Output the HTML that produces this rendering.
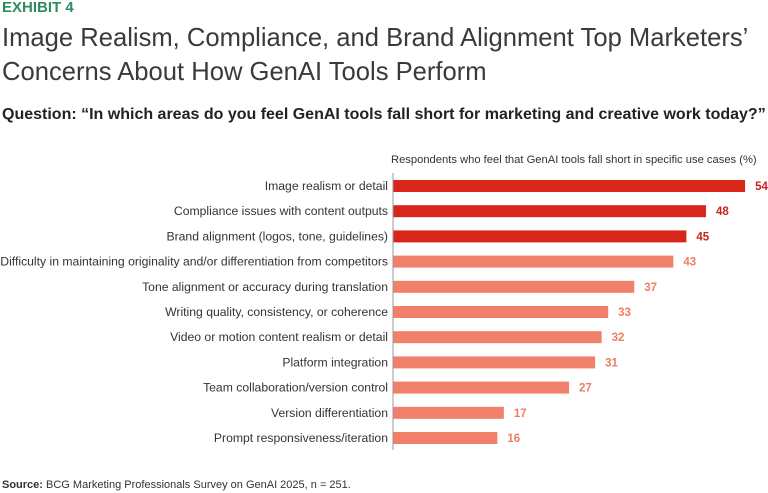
<!DOCTYPE html>
<html><head><meta charset="utf-8"><style>
body{margin:0;width:768px;height:493px;background:#fff;font-family:"Liberation Sans",sans-serif;overflow:hidden;position:relative;color:#222}
.t{position:absolute;white-space:nowrap}
</style></head><body>
<div class="t" style="left:2px;top:-1px;font-size:15px;font-weight:bold;color:#2e8b62">EXHIBIT 4</div>
<div class="t" style="left:2px;top:21px;font-size:25.6px;line-height:34px;color:#3a3a3a">Image Realism, Compliance, and Brand Alignment Top Marketers’<br>Concerns About How GenAI Tools Perform</div>
<div class="t" style="left:2px;top:106px;font-size:16px;font-weight:bold;color:#222">Question: “In which areas do you feel GenAI tools fall short for marketing and creative work today?”</div>
<div class="t" style="left:391px;top:154px;font-size:11.2px;color:#333">Respondents who feel that GenAI tools fall short in specific use cases (%)</div>
<svg id="c" width="768" height="493" style="position:absolute;left:0;top:0"></svg>
<div class="t" style="left:2px;top:479px;font-size:11px;color:#333"><b>Source:</b> BCG Marketing Professionals Survey on GenAI 2025, n = 251.</div>
<script>
const categories=["Image realism or detail","Compliance issues with content outputs","Brand alignment (logos, tone, guidelines)","Difficulty in maintaining originality and/or differentiation from competitors","Tone alignment or accuracy during translation","Writing quality, consistency, or coherence","Video or motion content realism or detail","Platform integration","Team collaboration/version control","Version differentiation","Prompt responsiveness/iteration"];
const values=[54,48,45,43,37,33,32,31,27,17,16];
const highlighted=[true,true,true,false,false,false,false,false,false,false,false];
const NS="http://www.w3.org/2000/svg";
const svg=document.getElementById('c');
const x0=393,k=6.52,y0=186,step=25.2,bh=12;
function xs(v){return x0+v*k;}
function ys(i){return y0+i*step;}
function mk(t,a){const e=document.createElementNS(NS,t);for(const n in a)e.setAttribute(n,a[n]);svg.appendChild(e);return e;}
categories.forEach((c,i)=>{
  const col=highlighted[i]?"#d8261b":"#f0806a";
  const r=mk('rect',{x:x0,y:ys(i)-bh/2,width:xs(values[i])-x0,height:bh,fill:col});
  
  
  const l=mk('text',{x:388,y:ys(i)+4,'text-anchor':'end','font-size':'12.2',fill:'#333','font-family':'Liberation Sans, sans-serif'});
  l.textContent=c;
  
  
  const v=mk('text',{x:xs(values[i])+10,y:ys(i)+4,'font-size':'11.5','font-weight':'bold',fill:highlighted[i]?"#c8231a":"#ef7d66",'font-family':'Liberation Sans, sans-serif'});
  v.textContent=values[i];
  
  
});
const ax=mk('line',{x1:x0,x2:x0,y1:173,y2:450,stroke:'#999','stroke-width':1});


</script>
</body></html>
